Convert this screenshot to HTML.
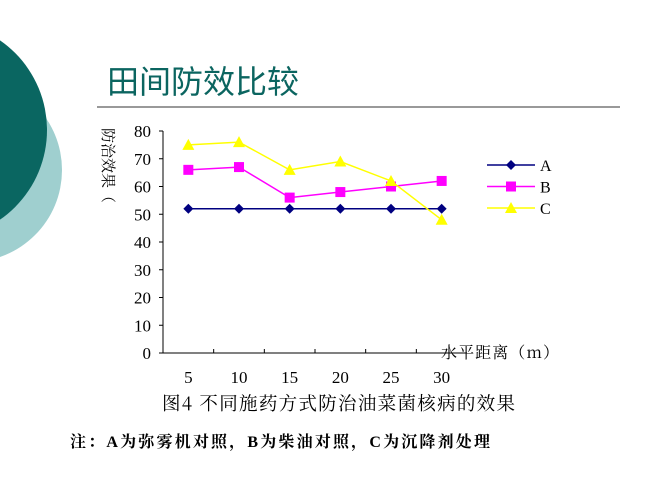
<!DOCTYPE html>
<html><head><meta charset="utf-8"><style>
body{margin:0;width:650px;height:487px;overflow:hidden;background:#fff;font-family:"Liberation Serif","Noto Serif CJK SC",serif;}
</style></head><body>
<svg width="650" height="487">
<circle cx="-30" cy="170" r="92" fill="#9fcfcf"/>
<circle cx="-62" cy="130" r="109" fill="#0a6661"/>
<text x="107" y="93" font-size="32" fill="#0b6560" font-family="'Noto Sans CJK SC',sans-serif">田间防效比较</text>
<line x1="97" y1="107" x2="620" y2="107" stroke="#999" stroke-width="2"/>
<g id="chart"></g>
<text x="162" y="410" font-size="18.5" textLength="353" font-family="'Noto Serif CJK SC',serif">图4  不同施药方式防治油菜菌核病的效果</text>
<text x="70" y="447" font-size="16" font-weight="bold" textLength="420" font-family="'Liberation Serif','Noto Serif CJK SC',serif">注：A为弥雾机对照，B为柴油对照，C为沉降剂处理</text>
</svg>
<script>
const categories=["5","10","15","20","25","30"];
const seriesA=[52,52,52,52,52,52];
const seriesB=[66,67,56,58,60,62];
const seriesC=[75,76,66,69,62,48];
const yTicks=[0,10,20,30,40,50,60,70,80];
const NS="http://www.w3.org/2000/svg";
const g=document.getElementById('chart');
const x0=163,x1=467,yTop=131,yBot=353;
const step=(x1-x0)/categories.length;
const xs=i=>x0+step*(i+0.5);
const ys=v=>yBot-(v/80)*(yBot-yTop);
function mk(t,a,p){const e=document.createElementNS(NS,t);for(const k in a)e.setAttribute(k,a[k]);(p||g).appendChild(e);return e;}
let ax=mk('line',{x1:x0,y1:yTop,x2:x0,y2:yBot,stroke:'#000'});


let bx=mk('line',{x1:x0,y1:yBot,x2:x1,y2:yBot,stroke:'#000'});


yTicks.forEach(v=>{
 let tk=mk('line',{x1:x0-4,y1:ys(v),x2:x0,y2:ys(v),stroke:'#000'});
 
 
 let t=mk('text',{x:x0-12,y:ys(v)+6,'font-size':17,'text-anchor':'end'});t.textContent=v;
 
 
});
for(let i=1;i<categories.length;i++){
 let tk=mk('line',{x1:x0+step*i,y1:yBot,x2:x0+step*i,y2:yBot-4,stroke:'#000'});
 
 
}
categories.forEach((c,i)=>{
 let t=mk('text',{x:xs(i),y:383,'font-size':17,'text-anchor':'middle'});t.textContent=c;
 
 
});
let xt=mk('text',{x:441,y:358,'font-size':16,textLength:118,'font-family':"'Noto Serif CJK SC',serif"});xt.textContent='水平距离（m）';


let yt=mk('text',{x:0,y:0,'font-size':15,transform:'translate(103,128) rotate(90)','font-family':"'Noto Serif CJK SC',serif"});yt.textContent='防治效果（';


function marker(type,x,y,col){
 if(type==='d')return mk('polygon',{points:`${x},${y-5} ${x+5},${y} ${x},${y+5} ${x-5},${y}`,fill:col});
 if(type==='s')return mk('rect',{x:x-5,y:y-5,width:10,height:10,fill:col});
 return mk('polygon',{points:`${x},${y-6} ${x+6},${y+5} ${x-6},${y+5}`,fill:col});
}
const series=[['A',seriesA,'#000080','d'],['B',seriesB,'#ff00ff','s'],['C',seriesC,'#ffff00','t']];
series.forEach(([n,d,col,m],si)=>{
 let pl=mk('polyline',{points:d.map((v,i)=>xs(i)+','+ys(v)).join(' '),fill:'none',stroke:col,'stroke-width':1.5});
 
 
 d.forEach((v,i)=>{let p=marker(m,xs(i),ys(v),col);
  
  });
 const ly=165+si*21.5;
 let ll=mk('line',{x1:487,y1:ly,x2:535,y2:ly,stroke:col,'stroke-width':1.5});
 
 
 let lm=marker(m,511,ly,col);
 
 
 let lt=mk('text',{x:540,y:ly+6,'font-size':16});lt.textContent=n;
 
 
});
</script>
</body></html>
